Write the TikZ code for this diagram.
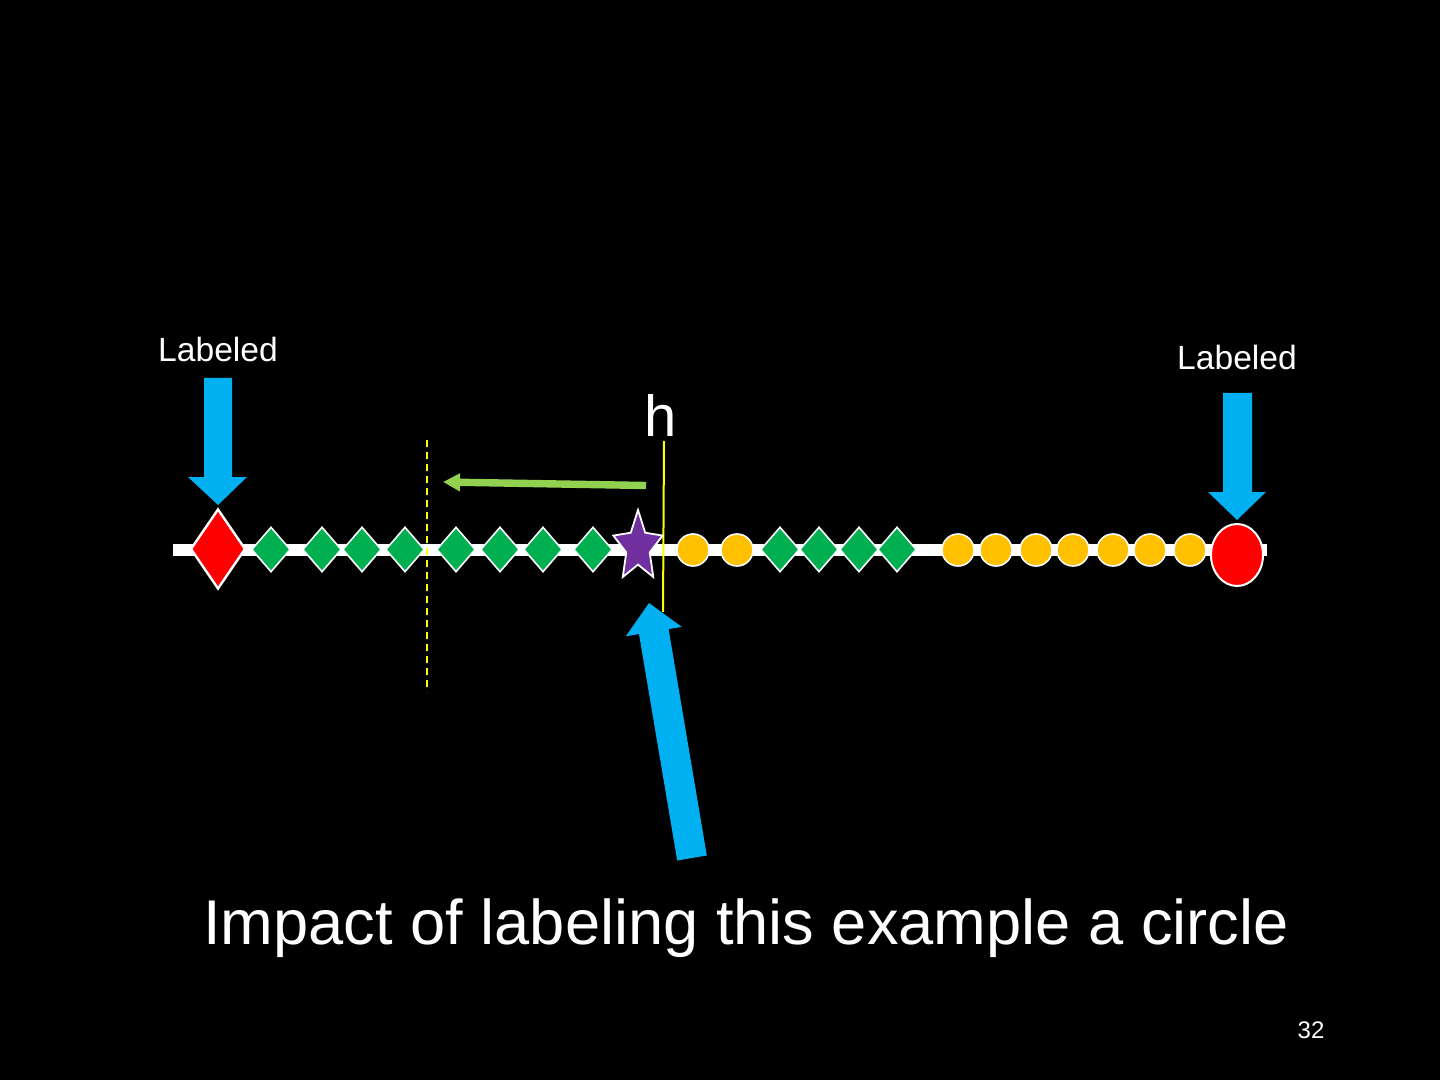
\documentclass[tikz,border=0pt]{standalone}
\usepackage{fontspec}
\setmainfont{Liberation Sans}
\usetikzlibrary{shapes.geometric,arrows.meta}
\definecolor{pblue}{HTML}{00B0F0}
\definecolor{pgreen}{HTML}{00B050}
\definecolor{lgreen}{HTML}{92D050}
\definecolor{porange}{HTML}{FFC000}
\definecolor{ppurple}{HTML}{7030A0}
\definecolor{pred}{HTML}{FF0000}
\definecolor{pyellow}{HTML}{FFFF00}
\begin{document}
\begin{tikzpicture}[x=0.5pt,y=-0.5pt,
  gdia/.style={diamond, draw=white, line width=0.8pt, fill=pgreen, minimum width=19.5pt, minimum height=22.5pt, inner sep=0pt},
  ocirc/.style={circle, draw=white, line width=0.8pt, fill=porange, minimum size=16pt, inner sep=0pt},
  barrow/.style={fill=pblue, draw=none},
  lbl/.style={text=white, font=\fontsize{16.8}{19}\selectfont, anchor=base, inner sep=0pt}]
\fill[black] (0,0) rectangle (1440,1080);
\useasboundingbox (0,0) rectangle (1440,1080);

% axis bar
\coordinate (barL) at (173,550);
\coordinate (barR) at (1267,550);
\draw[white, line width=6pt] (barL) -- (barR);

% yellow lines
\coordinate (d1) at (427,440);
\coordinate (d2) at (427,692);
\draw[pyellow, line width=1.2pt, dash pattern=on 3.5pt off 2.5pt] (d1) -- (d2);
\coordinate (hl1) at (664,441);
\coordinate (hl2) at (663,612);
\draw[pyellow, line width=1pt] (hl1) -- (hl2);

% red labeled diamond
\node[diamond, draw=white, line width=1.2pt, fill=pred, minimum width=27.5pt, minimum height=40pt, inner sep=0pt] (rd) at (218,549) {};

% green diamonds
\foreach \x [count=\i] in {271,322,362,405,456,500,543,593,780,819,859,897}
  \node[gdia] (g\i) at (\x,549.5) {};

% orange circles
\foreach \x [count=\i] in {693,737,958,996,1036,1073,1113,1150,1190}
  \node[ocirc] (o\i) at (\x,550) {};

% red labeled ellipse
\node[ellipse, draw=white, line width=1pt, fill=pred, minimum width=26pt, minimum height=31pt, inner sep=0pt] (re) at (1237,555) {};

% star
\begin{scope}[shift={(638,547)}, xscale=0.7]
  \node[star, star points=5, star point ratio=2.1, minimum size=37pt, inner sep=0pt, draw=white, line width=0.9pt, fill=ppurple, transform shape] (st) at (0,0) {};
\end{scope}

% green arrow
\coordinate (ga1) at (646,485.5);
\coordinate (ga2) at (443,482);
\draw[-{Triangle[length=8.5pt,width=8.5pt]}, lgreen, line width=3.7pt] (ga1) -- (ga2);

% blue arrows
\fill[barrow] (204,378) -- (232,378) -- (232,477) -- (247,477) -- (218,505) -- (188,477) -- (204,477) -- cycle;
\fill[barrow] (1223,393) -- (1252,393) -- (1252,492) -- (1266,492) -- (1237,520) -- (1208,492) -- (1223,492) -- cycle;
\fill[barrow] (706.8,855.5) -- (668.6,629.1) -- (681.8,626.9) -- (649,603) -- (625.8,636.3) -- (639.0,634.1) -- (677.2,860.5) -- cycle;

% texts
\node[lbl] (lab1) at (218,362) {Labeled};
\node[lbl] (lab2) at (1237,370) {Labeled};
\node[text=white, font=\fontsize{29}{32}\selectfont, anchor=base, inner sep=0pt] (h) at (661,437) {h};
\node[text=white, font=\fontsize{31.6}{36}\selectfont, anchor=base, inner sep=0pt] (cap) at (746,944) {Impact of labeling this example a circle};
\node[text=white, font=\fontsize{12}{14}\selectfont, anchor=base, inner sep=0pt] (pg) at (1311,1038) {32};
\end{tikzpicture}
\end{document}
